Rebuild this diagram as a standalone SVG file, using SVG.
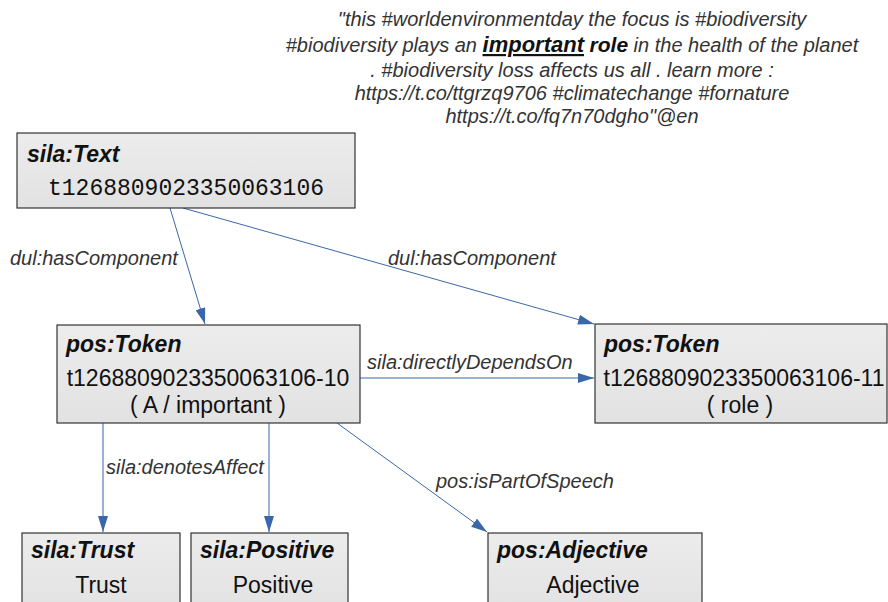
<svg xmlns="http://www.w3.org/2000/svg" width="888" height="602" viewBox="0 0 888 602">
  <style>
    .box { fill: url(#boxfill); stroke: #333; stroke-width: 1.2; }
    .type { font-family: "Liberation Sans", Arial, sans-serif; font-weight: bold; font-style: italic; font-size: 23px; fill: #111; }
    .val { font-family: "Liberation Sans", Arial, sans-serif; font-size: 23px; fill: #111; text-anchor: middle; }
    .mono { font-family: "Liberation Mono", "Courier New", monospace; font-size: 23px; fill: #111; text-anchor: middle; }
    .edge { stroke: #3a67aa; stroke-width: 1; fill: none; marker-end: url(#arrow); }
    .elabel { font-family: "Liberation Sans", Arial, sans-serif; font-style: italic; font-size: 20px; fill: #333; }
    .quote { font-family: "Liberation Sans", Arial, sans-serif; font-style: italic; font-size: 20px; fill: #333; text-anchor: middle; }
    .em { font-weight: bold; fill: #111; }
  </style>
  <defs>
    <linearGradient id="boxfill" x1="0" y1="0" x2="0" y2="1">
      <stop offset="0" stop-color="#ececec"/>
      <stop offset="1" stop-color="#e2e2e2"/>
    </linearGradient>
    <marker id="arrow" viewBox="0 0 16 10" refX="16" refY="5" markerWidth="16" markerHeight="10" markerUnits="userSpaceOnUse" orient="auto">
      <path d="M0,0 L16,5 L0,10 Z" fill="#3a67aa"/>
    </marker>
  </defs>

  <!-- literal text value -->
  <g id="literal">
    <text class="quote" x="572" y="26">"this #worldenvironmentday the focus is #biodiversity</text>
    <text class="quote" x="572" y="52">#biodiversity plays an <tspan class="em" font-size="22" text-decoration="underline">important</tspan> <tspan class="em" font-size="21">role</tspan> in the health of the planet</text>
    <text class="quote" x="572" y="77">. #biodiversity loss affects us all . learn more :</text>
    <text class="quote" x="572" y="100">https://t.co/ttgrzq9706 #climatechange #fornature</text>
    <text class="quote" x="572" y="123">https://t.co/fq7n70dgho"@en</text>
  </g>

  <!-- connectors -->
  <g id="connectors">
    <line class="edge" x1="170" y1="208" x2="205" y2="324"/>
    <line class="edge" x1="183" y1="208" x2="594" y2="324"/>
    <line class="edge" x1="360" y1="378" x2="594" y2="378"/>
    <line class="edge" x1="103" y1="423" x2="103" y2="532"/>
    <line class="edge" x1="269" y1="423" x2="269" y2="532"/>
    <line class="edge" x1="337" y1="423" x2="487" y2="532"/>
    <text class="elabel" x="10" y="265">dul:hasComponent</text>
    <text class="elabel" x="388" y="265">dul:hasComponent</text>
    <text class="elabel" x="367" y="369">sila:directlyDependsOn</text>
    <text class="elabel" x="106" y="474">sila:denotesAffect</text>
    <text class="elabel" x="436" y="488">pos:isPartOfSpeech</text>
  </g>

  <g id="text-node">
    <rect class="box" x="17" y="133" width="338" height="75"/>
    <text class="type" x="27" y="162" font-size="25">sila:Text</text>
    <text class="mono" x="186" y="195">t1268809023350063106</text>
  </g>

  <g id="token-10">
    <rect class="box" x="57" y="325" width="303" height="98"/>
    <text class="type" x="66" y="352">pos:Token</text>
    <text class="val" x="208" y="386">t1268809023350063106-10</text>
    <text class="val" x="208" y="413">( A / important )</text>
  </g>

  <g id="token-11">
    <rect class="box" x="595" y="324" width="292" height="99"/>
    <text class="type" x="604" y="352">pos:Token</text>
    <text class="val" x="744" y="386">t1268809023350063106-11</text>
    <text class="val" x="740" y="413">( role )</text>
  </g>

  <g id="trust">
    <rect class="box" x="22" y="533" width="158" height="80"/>
    <text class="type" x="31" y="558">sila:Trust</text>
    <text class="val" x="101" y="593">Trust</text>
  </g>

  <g id="positive">
    <rect class="box" x="191" y="533" width="157" height="80"/>
    <text class="type" x="200" y="558">sila:Positive</text>
    <text class="val" x="273" y="593">Positive</text>
  </g>

  <g id="adjective">
    <rect class="box" x="488" y="533" width="214" height="80"/>
    <text class="type" x="497" y="558">pos:Adjective</text>
    <text class="val" x="593" y="593">Adjective</text>
  </g>
</svg>
